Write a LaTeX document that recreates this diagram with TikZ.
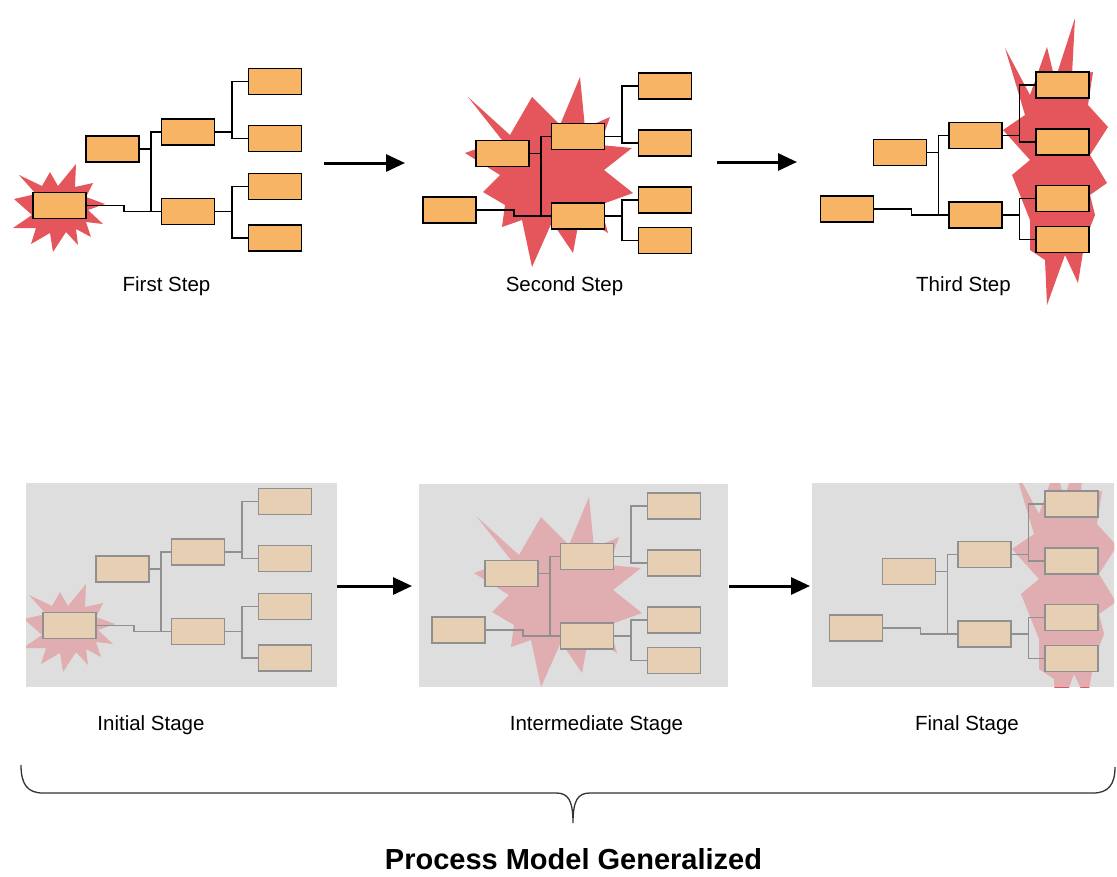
\documentclass[tikz,border=0pt]{standalone}
\usepackage{fontspec}
\setmainfont{Liberation Sans}
\usetikzlibrary{arrows.meta,calc}
\definecolor{boxorange}{RGB}{247,180,100}
\definecolor{burstred}{RGB}{228,86,92}
\definecolor{panelgray}{RGB}{222,222,222}
\tikzset{
 bx/.style={draw=black, fill=boxorange, line width=1.8pt, minimum width=53pt, minimum height=26pt, inner sep=0pt, outer sep=0pt},
 wire/.style={draw=black, line width=1.5pt},
 burst/.style={fill=burstred},
 bigarrow/.style={line width=3pt, -{Triangle[length=19pt,width=17pt]}},
 lbl/.style={font=\fontsize{20.5}{24}\selectfont, anchor=base, inner sep=0pt},
 ttl/.style={font=\fontsize{29}{34}\selectfont\bfseries, anchor=base, inner sep=0pt},
 brace/.style={draw=black!80, line width=1.3pt},
 fade/.style={fill=panelgray, opacity=0.65},
}
\newcommand\drawtree[4]{%
 \begin{scope}[shift={#2}]
  \node[bx] (#1r) at (0,0) {};
  \node[bx] (#1a) at (53,-56.5) {};
  \node[bx] (#1b) at (128.5,-73.5) {};
  \node[bx] (#1c) at (128.5,6) {};
  \node[bx] (#1l1) at (215.5,-124) {};
  \node[bx] (#1l2) at (215.5,-67) {};
  \node[bx] (#1l3) at (215.5,#3) {};
  \node[bx] (#1l4) at (215.5,#4) {};
  \coordinate (#1bus) at (91.5,-73.5);
  \coordinate (#1jb) at (172.5,-73.5);
  \coordinate (#1jc) at (172.5,6);
  \draw[wire] (#1r.east) -- ++(38,0) |- (#1c.west);
  \draw[wire] (#1b.west) -- (#1bus) |- (#1c.west);
  \draw[wire] (#1a.east) -- (#1a.east -| #1bus);
  \draw[wire] (#1b.east) -- (#1jb);
  \draw[wire] (#1l1.west) -| (#1jb) |- (#1l2.west);
  \draw[wire] (#1c.east) -- (#1jc);
  \draw[wire] (#1l3.west) -| (#1jc) |- (#1l4.west);
 \end{scope}}
\newcommand\burstone{\fill[burst] (14,199) -- (36,194) -- (19,175) -- (42,186) -- (50,172) -- (58,186) -- (76,164) -- (75,187) -- (93,183) -- (86,197) -- (105,204) -- (88,210) -- (103,224) -- (86,222) -- (91,237) -- (76,229) -- (78,245) -- (66,232) -- (53,252) -- (50,233) -- (31,244) -- (36,228) -- (13,228) -- (32,215) -- cycle;}
\newcommand\bursttwo{\fill[burst] (468,97) -- (510,135) -- (532,97) -- (560,125) -- (580,77) -- (585,128) -- (610,117) -- (600,145) -- (632,148) -- (604,170) -- (633,193) -- (600,205) -- (608,233) -- (580,215) -- (573,253) -- (552,222) -- (532,267) -- (522,220) -- (502,227) -- (505,205) -- (483,192) -- (500,175) -- (465,153) -- (502,140) -- cycle;}
\newcommand\burstthree{\fill[burst] (1005,48) -- (1030,95) -- (1047,47) -- (1055,80) -- (1075,18) -- (1072,75) -- (1093,72) -- (1088,105) -- (1108,127) -- (1090,155) -- (1107,183) -- (1090,195) -- (1095,215) -- (1085,240) -- (1078,283) -- (1065,255) -- (1047,305) -- (1045,260) -- (1030,250) -- (1030,220) -- (1012,175) -- (1030,160) -- (1003,130) -- (1025,115) -- cycle;}
\begin{document}
\begin{tikzpicture}[x=1pt,y=-1pt]
\useasboundingbox (0,0) rectangle (1117,876);
\fill[white] (0,0) rectangle (1117,876);
% top row
\burstone
\bursttwo
\burstthree
\drawtree{s}{(59.5,205.5)}{-19}{32.5}
\drawtree{t}{(449.5,210)}{-10}{30.5}
\drawtree{u}{(847,209)}{-10.5}{30.5}
\node[lbl] (lab1) at (166.5,291) {First Step};
\node[lbl] (lab2) at (564.5,291) {Second Step};
\node[lbl] (lab3) at (963.5,291) {Third Step};
\coordinate (a1s) at (324,163); \coordinate (a1e) at (405,163);
\coordinate (a2s) at (717,162); \coordinate (a2e) at (797,162);
\draw[bigarrow] (a1s) -- (a1e);
\draw[bigarrow] (a2s) -- (a2e);
% bottom panels
\fill[panelgray] (26,483) rectangle (337,687);
\begin{scope}
 \clip (26,483) rectangle (337,687);
 \begin{scope}[shift={(10,420)}]
  \burstone
  \drawtree{p}{(59.5,205.5)}{-19}{32.5}
 \end{scope}
 \fill[fade] (26,483) rectangle (337,687);
\end{scope}
\fill[panelgray] (419,484) rectangle (728,687);
\begin{scope}
 \clip (419,484) rectangle (728,687);
 \begin{scope}[shift={(9,420)}]
  \bursttwo
  \drawtree{q}{(449.5,210)}{-10}{30.5}
 \end{scope}
 \fill[fade] (419,484) rectangle (728,687);
\end{scope}
\fill[panelgray] (812,483) rectangle (1114,687);
\begin{scope}
 \clip (812,483) rectangle (1114,687);
 \begin{scope}[shift={(9,419)}]
  \burstthree
  \drawtree{v}{(847,209)}{-10.5}{30.5}
 \end{scope}
 \fill[fade] (812,483) rectangle (1114,687);
\end{scope}
\coordinate (b1s) at (337,586); \coordinate (b1e) at (412,586);
\coordinate (b2s) at (729,586); \coordinate (b2e) at (810,586);
\draw[bigarrow] (b1s) -- (b1e);
\draw[bigarrow] (b2s) -- (b2e);
\node[lbl] (lab4) at (151,730) {Initial Stage};
\node[lbl] (lab5) at (596.5,730) {Intermediate Stage};
\node[lbl] (lab6) at (967,730) {Final Stage};
% brace
\draw[brace] (21,765) .. controls (21,785) and (28,793) .. (43,793) -- (556,793) .. controls (568,793) and (573,800) .. (573,823) .. controls (573,800) and (578,793) .. (590,793) -- (1093,793) .. controls (1108,793) and (1115,785) .. (1115,767);
\node[ttl] (title) at (573.5,869) {Process Model Generalized};
\end{tikzpicture}
\end{document}
